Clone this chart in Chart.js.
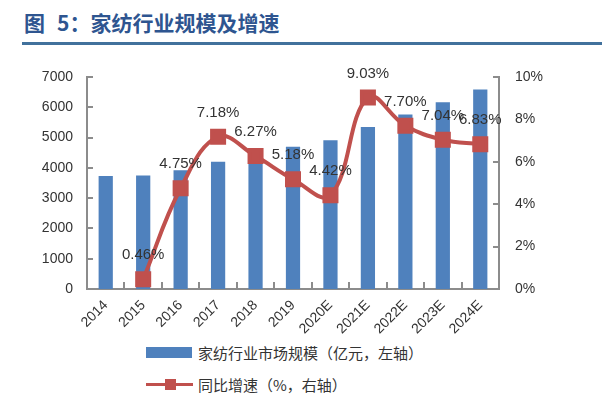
<!DOCTYPE html>
<html lang="zh">
<head>
    <meta charset="UTF-8">
    <title>家纺行业规模及增速</title>
    <script src="https://cdn.jsdelivr.net/npm/chart.js"></script>
    <style>
        body {
            margin: 0;
            padding: 0;
            background: #ffffff;
            font-family: 'Noto Sans CJK SC', 'Liberation Sans', sans-serif;
        }
        .wrap {
            position: relative;
            width: 612px;
            height: 400px;
            overflow: hidden;
        }
        .title {
            position: absolute;
            left: 24px;
            top: 7px;
            font-size: 21px;
            font-weight: bold;
            color: #2e5590;
            white-space: nowrap;
        }
        .title .num {
            margin-left: 12px;
        }
        .title-line {
            position: absolute;
            left: 22px;
            top: 42px;
            width: 580px;
            height: 3px;
            background: #41719c;
        }
        #chart {
            position: absolute;
            left: 0;
            top: 0;
        }
        .legend-row {
            position: absolute;
            left: 146px;
            height: 20px;
            display: flex;
            align-items: center;
            font-size: 15px;
            color: #333;
            white-space: nowrap;
        }
        .swatch-bar {
            width: 46px;
            height: 11px;
            background: #4f81bd;
            margin-right: 6px;
        }
        .swatch-line {
            position: relative;
            width: 47px;
            height: 3px;
            background: #c0504d;
            margin-right: 5px;
        }
        .swatch-line span {
            position: absolute;
            left: 19px;
            top: -4px;
            width: 11px;
            height: 11px;
            background: #c0504d;
        }
    </style>
</head>
<body>
<div class="wrap">
    <div class="title">图<span class="num">5</span>：家纺行业规模及增速</div>
    <div class="title-line"></div>
    <canvas id="chart" width="612" height="340"></canvas>
    <div class="legend-row" style="top:342px;"><div class="swatch-bar"></div>家纺行业市场规模（亿元，左轴）</div>
    <div class="legend-row" style="top:374px;"><div class="swatch-line"><span></span></div>同比增速（%，右轴）</div>
</div>

<script>
    // data
    const years = ['2014', '2015', '2016', '2017', '2018', '2019', '2020E', '2021E', '2022E', '2023E', '2024E'];
    const marketSize = [3730, 3745, 3920, 4200, 4470, 4700, 4910, 5350, 5760, 6170, 6590];   // 亿元
    const growthRate = [null, 0.46, 4.75, 7.18, 6.27, 5.18, 4.42, 9.03, 7.70, 7.04, 6.83];    // %
    const leftTicks = [0, 1000, 2000, 3000, 4000, 5000, 6000, 7000];
    const rightTicks = [0, 2, 4, 6, 8, 10];

    const axisColor = '#8c8c8c';
    const tickFont = { family: 'Liberation Sans', size: 14 };

    // small inward tick marks, like the original
    const innerTicks = {
        id: 'innerTicks',
        afterDraw(chart) {
            const ctx = chart.ctx;
            const area = chart.chartArea;
            const x = chart.scales.x, yL = chart.scales.y, yR = chart.scales.y1;
            ctx.save();
            ctx.strokeStyle = axisColor;
            ctx.lineWidth = 2;
            ctx.beginPath();
            leftTicks.forEach(v => {
                const py = Math.round(yL.getPixelForValue(v));
                ctx.moveTo(area.left, py);
                ctx.lineTo(area.left + 6, py);
            });
            rightTicks.forEach(v => {
                const py = Math.round(yR.getPixelForValue(v));
                ctx.moveTo(area.right, py);
                ctx.lineTo(area.right - 6, py);
            });
            for (let i = 0; i <= years.length; i++) {
                const px = Math.round(x.getPixelForValue(i - 0.5));
                ctx.moveTo(px, area.bottom);
                ctx.lineTo(px, area.bottom - 7);
            }
            ctx.stroke();
            ctx.restore();
        }
    };

    // percentage labels above the line points
    const pointLabels = {
        id: 'pointLabels',
        afterDatasetsDraw(chart) {
            const ctx = chart.ctx;
            const meta = chart.getDatasetMeta(1);
            ctx.save();
            ctx.font = '15px "Liberation Sans"';
            ctx.fillStyle = '#333';
            ctx.textAlign = 'center';
            ctx.textBaseline = 'middle';
            meta.data.forEach((pt, i) => {
                if (growthRate[i] == null) return;
                ctx.fillText(growthRate[i].toFixed(2) + '%', pt.x, pt.y - 24);
            });
            ctx.restore();
        }
    };

    const ctx = document.getElementById('chart').getContext('2d');
    new Chart(ctx, {
        data: {
            labels: years,
            datasets: [{
                type: 'bar',
                label: '家纺行业市场规模（亿元，左轴）',
                data: marketSize,
                backgroundColor: '#4f81bd',
                yAxisID: 'y',
                barPercentage: 0.38,
                categoryPercentage: 1,
                order: 2
            }, {
                type: 'line',
                label: '同比增速（%，右轴）',
                data: growthRate,
                borderColor: '#c0504d',
                backgroundColor: '#c0504d',
                borderWidth: 4,
                pointStyle: 'rect',
                pointRadius: 8.5,
                pointHoverRadius: 8.5,
                tension: 0.4,
                yAxisID: 'y1',
                order: 1
            }]
        },
        options: {
            responsive: false,
            animation: false,
            layout: { padding: { left: 0, right: 0, top: 77, bottom: 0 } },
            plugins: {
                legend: { display: false },
                tooltip: { enabled: false }
            },
            scales: {
                x: {
                    grid: { display: false, drawTicks: false },
                    border: { color: axisColor, width: 2 },
                    ticks: {
                        font: { family: 'Liberation Sans', size: 14 },
                        color: '#333',
                        minRotation: 45,
                        maxRotation: 45,
                        padding: 8
                    },
                    afterFit(scale) { scale.height = 51; }
                },
                y: {
                    position: 'left',
                    min: 0,
                    max: 7000,
                    grid: { display: false, drawTicks: false },
                    border: { color: axisColor, width: 2 },
                    ticks: {
                        stepSize: 1000,
                        font: tickFont,
                        color: '#333',
                        padding: 14,
                        callback: v => String(v)
                    },
                    afterFit(scale) { scale.width = 87; }
                },
                y1: {
                    position: 'right',
                    min: 0,
                    max: 10,
                    grid: { display: false, drawTicks: false },
                    border: { color: axisColor, width: 2 },
                    ticks: {
                        stepSize: 2,
                        font: tickFont,
                        color: '#333',
                        padding: 16,
                        callback: v => v + '%'
                    },
                    afterFit(scale) { scale.width = 113; }
                }
            }
        },
        plugins: [innerTicks, pointLabels]
    });
</script>
</body>
</html>
